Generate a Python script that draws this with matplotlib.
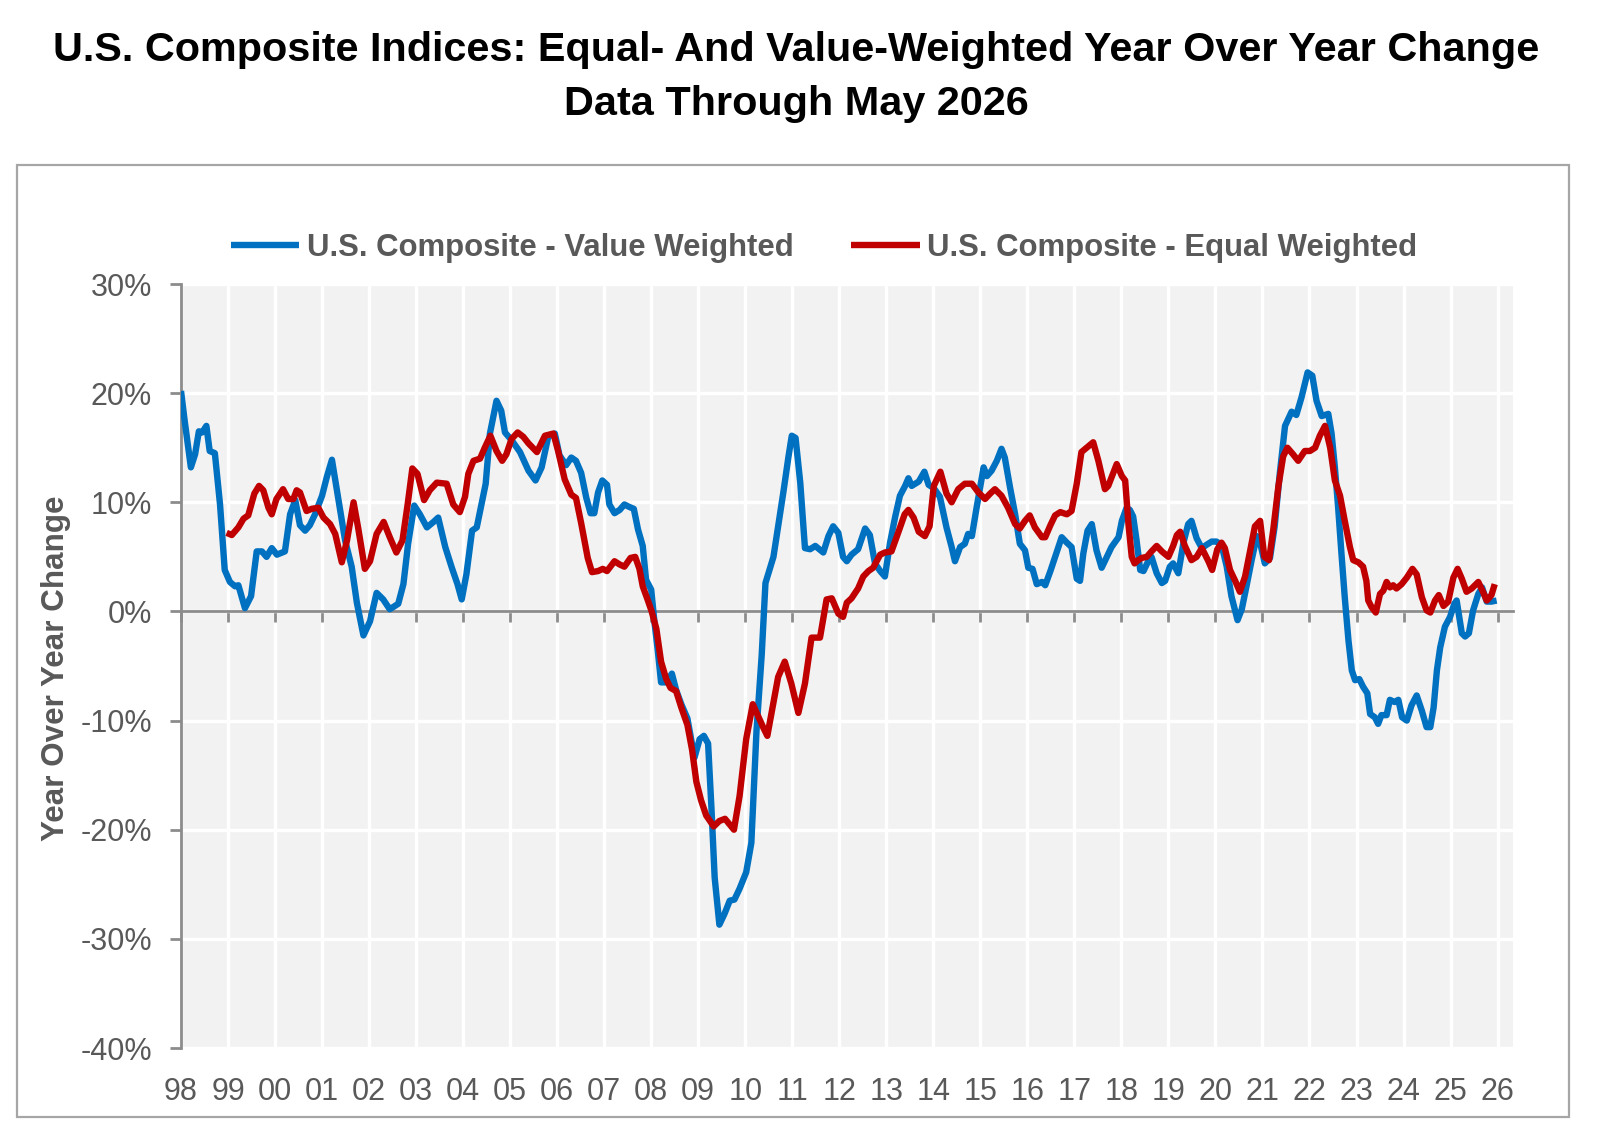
import matplotlib
matplotlib.use('Agg')
import matplotlib.pyplot as plt
from matplotlib.patches import Rectangle

plt.rcParams['font.family'] = ['Liberation Sans', 'DejaVu Sans']

# ---- Data (decimal year, YoY % change) ----
value_t = [1998.00, 1998.08, 1998.21, 1998.30, 1998.38, 1998.45, 1998.54, 1998.61, 1998.72, 1998.83,
           1998.93, 1999.04, 1999.15, 1999.22, 1999.36, 1999.49, 1999.61, 1999.72, 1999.82, 1999.93,
           2000.04, 2000.21, 2000.32, 2000.43, 2000.53, 2000.64, 2000.74, 2000.85, 2001.00, 2001.10,
           2001.21, 2001.35, 2001.49, 2001.63, 2001.74, 2001.88, 2002.02, 2002.16, 2002.30, 2002.44,
           2002.62, 2002.73, 2002.83, 2002.96, 2003.08, 2003.23, 2003.37, 2003.47, 2003.62, 2003.76,
           2003.88, 2003.97, 2004.07, 2004.19, 2004.29, 2004.39, 2004.48, 2004.57, 2004.71, 2004.81,
           2004.89, 2005.03, 2005.21, 2005.39, 2005.54, 2005.67, 2005.81, 2005.95, 2006.05, 2006.19,
           2006.30, 2006.40, 2006.51, 2006.62, 2006.71, 2006.79, 2006.87, 2006.96, 2007.06, 2007.11,
           2007.22, 2007.33, 2007.43, 2007.52, 2007.63, 2007.72, 2007.82, 2007.89, 2008.00, 2008.07,
           2008.14, 2008.21, 2008.32, 2008.44, 2008.53, 2008.64, 2008.77, 2008.85, 2008.92, 2009.03,
           2009.12, 2009.21, 2009.28, 2009.35, 2009.45, 2009.56, 2009.67, 2009.77, 2009.88, 2010.02,
           2010.13, 2010.20, 2010.24, 2010.35, 2010.43, 2010.60, 2010.70, 2010.81, 2010.92, 2010.99,
           2011.07, 2011.17, 2011.27, 2011.38, 2011.49, 2011.66, 2011.77, 2011.87, 2011.98, 2012.08,
           2012.16, 2012.26, 2012.40, 2012.55, 2012.65, 2012.76, 2012.87, 2012.97, 2013.08, 2013.19,
           2013.29, 2013.40, 2013.47, 2013.54, 2013.69, 2013.81, 2013.90, 2014.01, 2014.14, 2014.28,
           2014.39, 2014.46, 2014.57, 2014.67, 2014.74, 2014.82, 2014.92, 2015.07, 2015.14, 2015.24,
           2015.35, 2015.45, 2015.52, 2015.63, 2015.74, 2015.84, 2015.95, 2016.02, 2016.11, 2016.20,
           2016.31, 2016.38, 2016.49, 2016.59, 2016.73, 2016.84, 2016.94, 2017.05, 2017.12, 2017.19,
           2017.28, 2017.37, 2017.47, 2017.58, 2017.69, 2017.79, 2017.94, 2018.01, 2018.11, 2018.18,
           2018.25, 2018.32, 2018.40, 2018.47, 2018.57, 2018.64, 2018.75, 2018.86, 2018.93, 2019.03,
           2019.10, 2019.21, 2019.32, 2019.42, 2019.49, 2019.60, 2019.71, 2019.81, 2019.92, 2020.02,
           2020.13, 2020.24, 2020.34, 2020.47, 2020.56, 2020.66, 2020.77, 2020.88, 2020.95, 2021.05,
           2021.16, 2021.26, 2021.37, 2021.48, 2021.62, 2021.72, 2021.83, 2021.96, 2022.06, 2022.15,
           2022.26, 2022.40, 2022.47, 2022.54, 2022.61, 2022.68, 2022.75, 2022.83, 2022.90, 2022.97,
           2023.06, 2023.14, 2023.23, 2023.29, 2023.39, 2023.46, 2023.53, 2023.64, 2023.71, 2023.81,
           2023.89, 2023.97, 2024.07, 2024.17, 2024.28, 2024.39, 2024.49, 2024.57, 2024.64, 2024.71,
           2024.78, 2024.88, 2024.99, 2025.08, 2025.13, 2025.24, 2025.31, 2025.39, 2025.48, 2025.59,
           2025.67, 2025.77, 2025.87, 2025.98]
value_v = [20.2, 17.4, 13.2, 14.4, 16.5, 16.4, 17.0, 14.7, 14.5, 9.8,
           3.8, 2.7, 2.3, 2.4, 0.3, 1.4, 5.5, 5.5, 5.0, 5.8,
           5.2, 5.5, 8.9, 10.2, 7.9, 7.4, 7.9, 8.9, 10.6, 12.3,
           13.9, 10.2, 6.5, 4.1, 0.8, -2.2, -0.9, 1.7, 1.1, 0.2,
           0.7, 2.5, 6.2, 9.7, 8.9, 7.7, 8.2, 8.6, 5.9, 4.0,
           2.5, 1.1, 3.4, 7.4, 7.7, 9.8, 11.7, 16.3, 19.3, 18.4,
           16.4, 15.7, 14.6, 12.9, 12.0, 13.2, 16.0, 16.3, 14.3, 13.4,
           14.1, 13.8, 12.7, 10.4, 9.0, 9.0, 10.9, 12.0, 11.6, 9.8,
           9.0, 9.3, 9.8, 9.6, 9.4, 7.5, 6.0, 2.9, 2.0, -1.0,
           -3.6, -6.5, -6.5, -5.7, -7.2, -8.5, -9.8, -11.7, -13.4, -11.7,
           -11.4, -12.1, -17.9, -24.4, -28.7, -27.7, -26.5, -26.4, -25.4, -23.9,
           -21.2, -14.7, -10.9, -4.0, 2.6, 5.0, 7.8, 10.9, 14.2, 16.1,
           15.9, 11.8, 5.8, 5.7, 6.0, 5.4, 6.9, 7.8, 7.2, 5.0,
           4.6, 5.2, 5.7, 7.6, 7.0, 4.4, 3.7, 3.2, 6.3, 8.7,
           10.6, 11.5, 12.2, 11.5, 11.9, 12.8, 11.6, 11.3, 10.5, 7.7,
           5.9, 4.6, 5.9, 6.2, 7.1, 6.9, 9.5, 13.2, 12.4, 12.9,
           13.8, 14.9, 14.1, 11.4, 8.9, 6.2, 5.6, 4.0, 3.9, 2.5,
           2.7, 2.4, 3.7, 5.0, 6.8, 6.3, 5.9, 3.0, 2.8, 5.3,
           7.4, 8.0, 5.6, 4.0, 5.0, 5.9, 6.8, 8.3, 9.5, 9.3,
           8.7, 6.6, 3.8, 3.7, 4.6, 5.0, 3.5, 2.6, 2.8, 4.1,
           4.4, 3.5, 6.3, 8.0, 8.3, 6.7, 5.8, 6.1, 6.4, 6.4,
           6.1, 4.1, 1.4, -0.8, 0.2, 2.3, 4.7, 6.9, 6.3, 4.4,
           4.9, 7.8, 12.7, 17.0, 18.3, 18.0, 19.6, 21.9, 21.6, 19.3,
           17.9, 18.1, 16.3, 13.2, 9.5, 5.3, 1.3, -2.7, -5.4, -6.3,
           -6.2, -6.9, -7.5, -9.4, -9.7, -10.3, -9.5, -9.5, -8.1, -8.3,
           -8.1, -9.7, -10.0, -8.6, -7.7, -9.1, -10.6, -10.6, -8.8, -5.4,
           -3.3, -1.4, -0.5, 0.7, 1.0, -2.0, -2.3, -2.0, 0.1, 1.6,
           2.2, 0.9, 0.9, 1.0]

equal_t = [1998.97, 1999.08, 1999.22, 1999.33, 1999.43, 1999.56, 1999.66, 1999.75, 1999.86, 1999.93,
           2000.03, 2000.17, 2000.28, 2000.39, 2000.46, 2000.53, 2000.67, 2000.78, 2000.92, 2001.03,
           2001.17, 2001.28, 2001.42, 2001.53, 2001.67, 2001.77, 2001.91, 2002.02, 2002.16, 2002.31,
           2002.44, 2002.58, 2002.71, 2002.82, 2002.92, 2003.03, 2003.17, 2003.29, 2003.44, 2003.65,
           2003.79, 2003.93, 2004.04, 2004.11, 2004.22, 2004.36, 2004.46, 2004.58, 2004.71, 2004.83,
           2004.92, 2005.03, 2005.16, 2005.28, 2005.39, 2005.57, 2005.74, 2005.92, 2006.02, 2006.16,
           2006.30, 2006.40, 2006.51, 2006.65, 2006.74, 2006.87, 2006.97, 2007.06, 2007.22, 2007.33,
           2007.43, 2007.56, 2007.66, 2007.75, 2007.82, 2007.93, 2008.01, 2008.11, 2008.21, 2008.32,
           2008.41, 2008.53, 2008.64, 2008.77, 2008.87, 2008.96, 2009.06, 2009.17, 2009.33, 2009.45,
           2009.57, 2009.76, 2009.88, 2010.02, 2010.16, 2010.39, 2010.47, 2010.70, 2010.84, 2010.98,
           2011.13, 2011.27, 2011.41, 2011.59, 2011.73, 2011.84, 2011.98, 2012.08, 2012.16, 2012.26,
           2012.40, 2012.51, 2012.62, 2012.72, 2012.87, 2012.97, 2013.11, 2013.26, 2013.39, 2013.47,
           2013.58, 2013.69, 2013.82, 2013.92, 2014.01, 2014.15, 2014.28, 2014.39, 2014.53, 2014.67,
           2014.82, 2014.96, 2015.10, 2015.21, 2015.31, 2015.45, 2015.59, 2015.74, 2015.84, 2015.95,
           2016.05, 2016.16, 2016.31, 2016.38, 2016.49, 2016.59, 2016.70, 2016.84, 2016.94, 2017.05,
           2017.15, 2017.26, 2017.40, 2017.51, 2017.65, 2017.72, 2017.90, 2018.01, 2018.08, 2018.15,
           2018.22, 2018.28, 2018.33, 2018.43, 2018.54, 2018.64, 2018.75, 2018.86, 2019.00, 2019.10,
           2019.18, 2019.25, 2019.35, 2019.49, 2019.60, 2019.71, 2019.85, 2019.93, 2020.04, 2020.13,
           2020.20, 2020.31, 2020.42, 2020.52, 2020.63, 2020.73, 2020.84, 2020.95, 2021.04, 2021.14,
           2021.23, 2021.34, 2021.44, 2021.53, 2021.65, 2021.76, 2021.90, 2022.01, 2022.12, 2022.22,
           2022.33, 2022.44, 2022.54, 2022.65, 2022.75, 2022.86, 2022.93, 2023.04, 2023.14, 2023.21,
           2023.25, 2023.32, 2023.41, 2023.50, 2023.57, 2023.64, 2023.71, 2023.78, 2023.85, 2023.96,
           2024.07, 2024.19, 2024.28, 2024.39, 2024.49, 2024.57, 2024.67, 2024.75, 2024.85, 2024.95,
           2025.06, 2025.15, 2025.24, 2025.34, 2025.45, 2025.59, 2025.69, 2025.77, 2025.87, 2025.94]
equal_v = [7.2, 7.0, 7.7, 8.5, 8.8, 10.8, 11.5, 11.1, 9.5, 8.9,
           10.3, 11.2, 10.3, 10.3, 11.1, 10.9, 9.2, 9.4, 9.5, 8.6,
           8.0, 7.1, 4.5, 6.5, 10.0, 7.6, 3.9, 4.6, 7.1, 8.2,
           6.8, 5.4, 6.5, 9.8, 13.1, 12.6, 10.2, 11.1, 11.8, 11.7,
           9.8, 9.1, 10.5, 12.6, 13.8, 14.0, 15.0, 16.1, 14.7, 13.8,
           14.4, 15.8, 16.4, 16.0, 15.4, 14.6, 16.1, 16.3, 14.7, 12.1,
           10.7, 10.4, 8.1, 4.9, 3.6, 3.7, 3.9, 3.7, 4.6, 4.3,
           4.1, 4.9, 5.0, 3.9, 2.3, 1.0, 0.0, -1.6, -4.6, -6.2,
           -7.0, -7.3, -8.8, -10.4, -12.7, -15.6, -17.3, -18.7, -19.7, -19.2,
           -19.0, -20.0, -16.9, -11.7, -8.5, -10.7, -11.4, -6.0, -4.6, -6.6,
           -9.3, -6.6, -2.4, -2.4, 1.1, 1.2, -0.2, -0.5, 0.8, 1.2,
           2.1, 3.2, 3.7, 4.0, 5.2, 5.4, 5.5, 7.3, 8.9, 9.3,
           8.6, 7.3, 6.9, 7.8, 11.5, 12.8, 10.8, 10.0, 11.2, 11.7,
           11.7, 10.9, 10.3, 10.8, 11.2, 10.6, 9.5, 8.0, 7.6, 8.3,
           8.8, 7.7, 6.8, 6.8, 7.9, 8.8, 9.1, 8.9, 9.2, 11.7,
           14.6, 15.0, 15.5, 13.8, 11.2, 11.5, 13.5, 12.4, 12.0, 8.0,
           5.0, 4.4, 4.6, 4.9, 5.0, 5.5, 6.0, 5.5, 5.0, 6.0,
           7.0, 7.3, 6.0, 4.7, 5.0, 5.8, 4.6, 3.8, 5.7, 6.3,
           5.8, 3.8, 2.8, 1.8, 3.2, 5.4, 7.8, 8.3, 5.0, 4.7,
           7.5, 11.5, 14.2, 15.0, 14.4, 13.8, 14.7, 14.7, 15.0, 16.1,
           17.0, 15.0, 12.0, 10.6, 8.3, 5.9, 4.7, 4.5, 4.1, 2.8,
           1.0, 0.4, -0.1, 1.6, 1.9, 2.7, 2.2, 2.4, 2.1, 2.5,
           3.1, 3.9, 3.4, 1.3, 0.1, -0.1, 1.0, 1.5, 0.5, 0.9,
           3.1, 3.9, 3.0, 1.8, 2.1, 2.7, 1.8, 1.0, 1.5, 2.5]

series_names = ['U.S. Composite - Value Weighted', 'U.S. Composite - Equal Weighted']
year_ticks = list(range(1998, 2027))
year_labels = [f"{y % 100:02d}" for y in year_ticks]
y_ticks = [30, 20, 10, 0, -10, -20, -30, -40]
y_labels = [f"{v}%" for v in y_ticks]

BLUE = '#0070C0'
RED = '#C00000'
GRAY_TXT = '#595959'
AXIS_GRAY = '#8C8C8C'

W, H = 1600, 1141
fig = plt.figure(figsize=(W / 100, H / 100), dpi=100)
fig.patch.set_facecolor('white')

# outer frame
fig.add_artist(Rectangle((17 / W, 1 - 1117 / H), 1552 / W, 952 / H,
                         transform=fig.transFigure, fill=False,
                         edgecolor='#A6A6A6', linewidth=1.6))

ax = fig.add_axes([181 / W, 1 - 1048 / H, (1513 - 181) / W, (1048 - 284) / H])
ax.set_facecolor('#F2F2F2')
ax.set_axisbelow(True)

l1, = ax.plot(value_t, value_v, color=BLUE, linewidth=4.6, zorder=3,
              solid_joinstyle='round', solid_capstyle='butt', label=series_names[0])
l2, = ax.plot(equal_t, equal_v, color=RED, linewidth=4.6, zorder=4,
              solid_joinstyle='round', solid_capstyle='butt', label=series_names[1])

ax.set_xlim(1998.0, 1998 + (1513 - 181) / 47.02)
ax.set_ylim(-40, 30)

# y axis
ax.set_yticks(y_ticks)
ax.set_yticklabels(y_labels)
ax.tick_params(axis='y', direction='out', length=8, width=2, color=AXIS_GRAY,
               pad=13, labelsize=22, labelcolor=GRAY_TXT)

# x axis: spine/ticks at 0, labels at bottom
ax.set_xticks(year_ticks)
ax.spines['bottom'].set_position(('data', 0))
ax.tick_params(axis='x', direction='out', length=8, width=2, color=AXIS_GRAY,
               labelbottom=False)
sec = ax.secondary_xaxis('bottom')
sec.set_xticks(year_ticks)
sec.set_xticklabels(year_labels)
sec.tick_params(axis='x', length=0, pad=21, labelsize=22, labelcolor=GRAY_TXT)
sec.spines['bottom'].set_visible(False)

for s in ['top', 'right']:
    ax.spines[s].set_visible(False)
for s in ['left', 'bottom']:
    ax.spines[s].set_color(AXIS_GRAY)
    ax.spines[s].set_linewidth(2)
    ax.spines[s].set_zorder(2.5)

ax.grid(True, color='white', linewidth=2.4)

# y label
fig.text(56 / W, 1 - 668 / H, 'Year Over Year Change', rotation=90,
         ha='center', va='center', fontsize=22.6, fontweight='bold', color=GRAY_TXT)

# title
fig.text(796 / W, 1 - 50 / H,
         'U.S. Composite Indices: Equal- And Value-Weighted Year Over Year Change',
         ha='center', va='center', fontsize=29.8, fontweight='bold', color='black')
fig.text(796 / W, 1 - 104 / H, 'Data Through May 2026',
         ha='center', va='center', fontsize=29.8, fontweight='bold', color='black')

# legend
fig.legend(handles=[l1, l2], labels=series_names, loc='center',
           bbox_to_anchor=(824 / W, 1 - 248 / H), ncol=2, frameon=False,
           prop={'weight': 'bold', 'size': 22.4}, labelcolor=GRAY_TXT,
           handlelength=2.2, handletextpad=0.25, columnspacing=1.85)

fig.savefig('out.png', dpi=100)
